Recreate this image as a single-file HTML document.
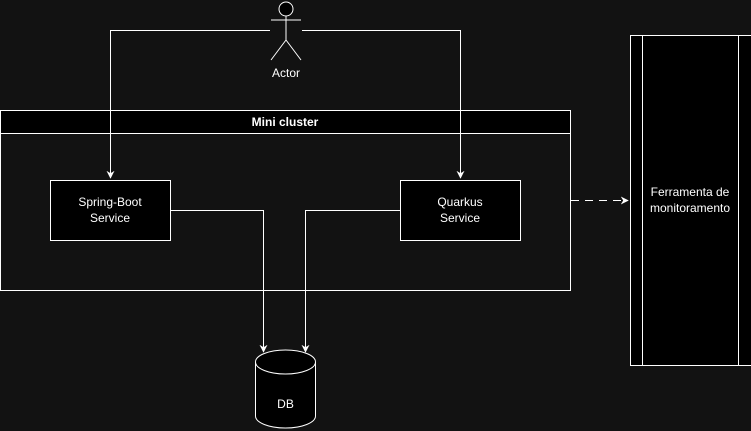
<!DOCTYPE html>
<html><head><style>
html,body{margin:0;padding:0;background:#121212;}
svg{display:block;}
text{font-family:"Liberation Sans",Arial,sans-serif;fill:#fff;font-size:12px;}
</style></head><body>
<svg width="751" height="431" viewBox="0 0 751 431" xmlns="http://www.w3.org/2000/svg">
<defs>
<marker id="a" viewBox="0 0 10 10" refX="9" refY="5" markerWidth="8" markerHeight="8" orient="auto" markerUnits="userSpaceOnUse">
<path d="M0,0 L10,5 L0,10 L3,5 Z" fill="#fff"/>
</marker>
</defs>
<rect width="751" height="431" fill="#121212"/>
<!-- container -->
<rect x="0.5" y="110.5" width="570" height="180" fill="#121212" stroke="#fff"/>
<rect x="0.5" y="110.5" width="570" height="23" fill="#000" stroke="#fff"/>
<text x="285" y="126" text-anchor="middle" font-weight="bold">Mini cluster</text>
<!-- actor -->
<circle cx="286" cy="9" r="7" fill="#000" stroke="#fff"/>
<path d="M286 16V40M271 20H301M286 40L271 60M286 40L301 60" stroke="#fff" fill="none"/>
<text x="286" y="77" text-anchor="middle">Actor</text>
<path d="M270 30.5H110.5V178" stroke="#fff" fill="none" marker-end="url(#a)"/>
<path d="M302 30.5H460.5V178" stroke="#fff" fill="none" marker-end="url(#a)"/>
<!-- services -->
<rect x="50.5" y="180.5" width="120" height="60" fill="#000" stroke="#fff"/>
<text x="110" y="206" text-anchor="middle">Spring-Boot</text>
<text x="110" y="222" text-anchor="middle">Service</text>
<rect x="400.5" y="180.5" width="120" height="60" fill="#000" stroke="#fff"/>
<text x="460" y="206" text-anchor="middle">Quarkus</text>
<text x="460" y="222" text-anchor="middle">Service</text>
<path d="M171 210.5H263.5V352" stroke="#fff" fill="none" marker-end="url(#a)"/>
<path d="M400 210.5H305.5V352" stroke="#fff" fill="none" marker-end="url(#a)"/>
<!-- DB -->
<path d="M255.5 362V416A30 12 0 0 0 315.5 416V362" fill="#000" stroke="#fff"/>
<ellipse cx="285.5" cy="362" rx="30" ry="12" fill="#000" stroke="#fff"/>
<text x="285.5" y="408" text-anchor="middle">DB</text>
<!-- monitoring -->
<path d="M571 200.5H628" stroke="#fff" stroke-dasharray="8 6" fill="none" marker-end="url(#a)"/>
<rect x="630.5" y="35.5" width="125" height="330" fill="#000" stroke="#fff"/>
<path d="M642.5 35.5V365.5M738.5 35.5V365.5" stroke="#fff"/>
<text x="690" y="196" text-anchor="middle">Ferramenta de</text>
<text x="690" y="212" text-anchor="middle">monitoramento</text>
</svg>
</body></html>
